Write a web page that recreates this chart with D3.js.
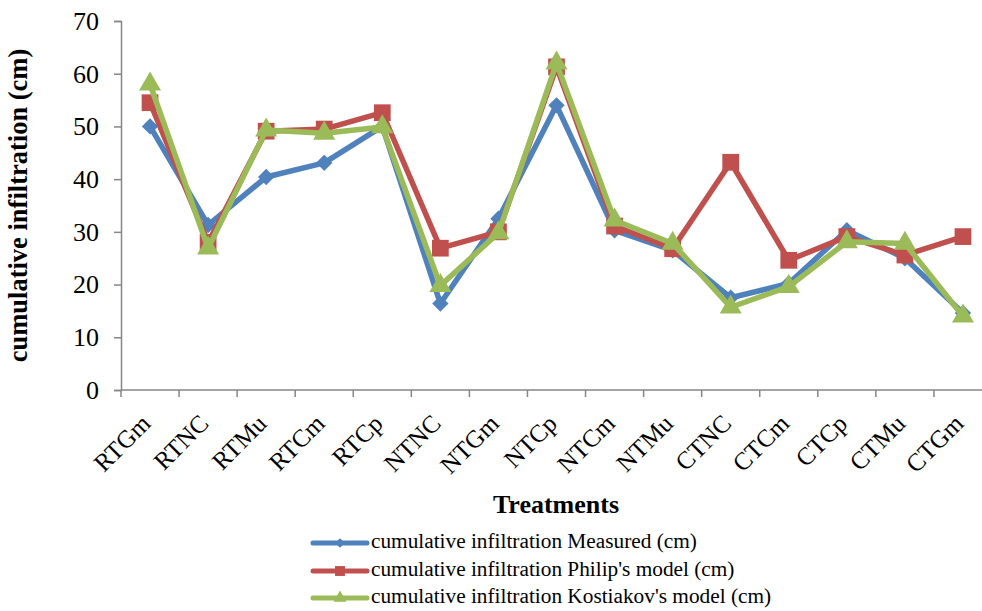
<!DOCTYPE html>
<html>
<head>
<meta charset="utf-8">
<script src="https://cdn.jsdelivr.net/npm/d3@7"></script>
<style>
  html, body { margin: 0; padding: 0; background: #fff; }
  svg { display: block; font-family: "Liberation Serif", "Times New Roman", serif; }
</style>
</head>
<body>
<svg id="chart" width="982" height="611"></svg>
<script>
// Treatments along the x axis
const treatments = ["RTGm", "RTNC", "RTMu", "RTCm", "RTCp", "NTNC", "NTGm", "NTCp",
                    "NTCm", "NTMu", "CTNC", "CTCm", "CTCp", "CTMu", "CTGm"];

// Cumulative infiltration (cm)
const measured   = [50.0, 31.3, 40.4, 43.1, 50.0, 16.4, 32.5, 54.0, 30.3, 26.5, 17.5, 20.2, 30.3, 25.0, 14.6];
const philip     = [54.5, 28.0, 49.1, 49.5, 52.6, 26.9, 30.0, 61.3, 31.1, 26.8, 43.2, 24.6, 29.1, 25.6, 29.1];
const kostiakov  = [58.0, 26.9, 49.3, 48.7, 49.9, 19.8, 29.8, 62.0, 32.2, 27.8, 15.7, 19.6, 28.1, 27.8, 14.0];

const yTicks = [0, 10, 20, 30, 40, 50, 60, 70];

const seriesNames = [
  "cumulative infiltration Measured (cm)",
  "cumulative infiltration Philip's model (cm)",
  "cumulative infiltration Kostiakov's model (cm)"
];
const seriesColors = ["#4F81BD", "#C0504D", "#9BBB59"];
const seriesSymbols = [d3.symbolDiamond2, d3.symbolSquare, d3.symbolTriangle];
const seriesSizes = [170, 280, 210];

const series = [measured, philip, kostiakov].map((values, i) => ({
  name: seriesNames[i], color: seriesColors[i], symbol: seriesSymbols[i],
  size: seriesSizes[i], values
}));

const FONT = "Liberation Serif";
const svg = d3.select("#chart");
const plotLeft = 121, plotRight = 992, plotTop = 21, plotBottom = 390;

const x = d3.scaleBand().domain(treatments).range([plotLeft, plotRight]).padding(0);
const y = d3.scaleLinear().domain([0, 70]).range([plotBottom, plotTop]);
const axisColor = "#868686";

// Y axis
const yAxis = svg.append("g")
  .attr("transform", `translate(${plotLeft},0)`)
  .call(d3.axisLeft(y).tickValues(yTicks).tickSize(7).tickPadding(15));
yAxis.select(".domain").attr("stroke", axisColor).attr("stroke-width", 1.5);
yAxis.selectAll(".tick line").attr("stroke", axisColor).attr("stroke-width", 1.5);
yAxis.selectAll(".tick text")
  .attr("font-family", FONT)
  .attr("font-size", 26).attr("fill", "#000");

// X axis with ticks on category boundaries
const xAxis = svg.append("g")
  .attr("transform", `translate(0,${plotBottom})`);
xAxis.append("line")
  .attr("x1", plotLeft).attr("x2", plotRight).attr("y1", 0).attr("y2", 0)
  .attr("stroke", axisColor).attr("stroke-width", 1.5);
const boundaries = treatments.map(t => x(t)).concat([x(treatments[treatments.length - 1]) + x.bandwidth()]);
xAxis.selectAll("line.tk").data(boundaries).join("line")
  .attr("class", "tk")
  .attr("x1", d => d).attr("x2", d => d).attr("y1", 0).attr("y2", 7)
  .attr("stroke", axisColor).attr("stroke-width", 1.5);
xAxis.selectAll("text.lbl").data(treatments).join("text")
  .attr("class", "lbl")
  .attr("transform", d => `translate(${x(d) + x.bandwidth() / 2 - 2},${31}) rotate(-45)`)
  .attr("text-anchor", "end")
  .attr("dominant-baseline", "middle")
  .attr("font-family", FONT)
  .attr("font-size", 25)
  .attr("fill", "#000")
  .text(d => d);

// Axis titles
svg.append("text")
  .attr("transform", `translate(27,${(plotTop + plotBottom) / 2}) rotate(-90)`)
  .attr("text-anchor", "middle")
  .attr("font-family", FONT)
  .attr("font-weight", "bold")
  .attr("font-size", 26.5)
  .text("cumulative infiltration (cm)");

svg.append("text")
  .attr("x", 556).attr("y", 513)
  .attr("text-anchor", "middle")
  .attr("font-family", FONT)
  .attr("font-weight", "bold")
  .attr("font-size", 26)
  .text("Treatments");

// Lines and markers
const cx = d => x(d) + x.bandwidth() / 2;
const line = d3.line().x((v, i) => cx(treatments[i])).y(v => y(v));

series.forEach(s => {
  const g = svg.append("g");
  g.append("path")
    .attr("d", line(s.values))
    .attr("fill", "none")
    .attr("stroke", s.color)
    .attr("stroke-width", 5.5)
    .attr("stroke-linejoin", "round");
  g.selectAll("path.m").data(s.values).join("path")
    .attr("class", "m")
    .attr("transform", (v, i) => `translate(${cx(treatments[i])},${y(v)})`)
    .attr("d", d3.symbol().type(s.symbol).size(s.size))
    .attr("fill", s.color);
});

// Legend
const legend = svg.append("g");
const legendY = [543, 571, 598];
series.forEach((s, i) => {
  const row = legend.append("g").attr("transform", `translate(0,${legendY[i]})`);
  row.append("line")
    .attr("x1", 313).attr("x2", 367).attr("y1", 0).attr("y2", 0)
    .attr("stroke", s.color).attr("stroke-width", 5).attr("stroke-linecap", "round");
  row.append("path")
    .attr("transform", "translate(340,0)")
    .attr("d", d3.symbol().type(s.symbol).size(s.size * 0.35))
    .attr("fill", s.color);
  row.append("text")
    .attr("x", 371).attr("y", 0)
    .attr("dominant-baseline", "middle")
    .attr("font-family", FONT)
    .attr("font-size", 21.3)
    .text(s.name);
});
</script>
</body>
</html>
